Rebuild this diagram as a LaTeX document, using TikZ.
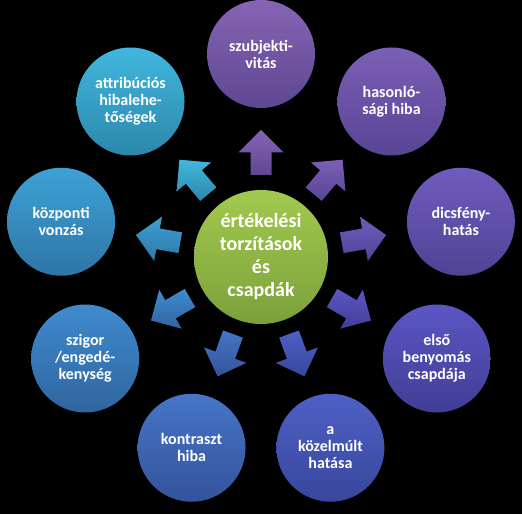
\documentclass[tikz,border=0pt]{standalone}
\usepackage{fontspec}
\setmainfont{Carlito}
\usetikzlibrary{calc}

\definecolor{greentop}{HTML}{A2C94F}
\definecolor{greenbot}{HTML}{7CA03A}
\definecolor{szubjtop}{HTML}{8664B4}
\definecolor{szubjbot}{HTML}{5E4791}
\definecolor{hasontop}{HTML}{7C5FB6}
\definecolor{hasonbot}{HTML}{584493}
\definecolor{dicstop}{HTML}{6F5CBE}
\definecolor{dicsbot}{HTML}{4F4393}
\definecolor{elsotop}{HTML}{5B56C4}
\definecolor{elsobot}{HTML}{403E95}
\definecolor{kozeltop}{HTML}{4E60C6}
\definecolor{kozelbot}{HTML}{38469A}
\definecolor{kontrtop}{HTML}{4675C8}
\definecolor{kontrbot}{HTML}{34539A}
\definecolor{szigtop}{HTML}{3F8BCF}
\definecolor{szigbot}{HTML}{2F659E}
\definecolor{kozptop}{HTML}{3EA1D6}
\definecolor{kozpbot}{HTML}{2D76A5}
\definecolor{attrtop}{HTML}{41B7DE}
\definecolor{attrbot}{HTML}{2C87AA}

% block arrow from the centre (c) towards node #1
\newcommand{\blockarr}[3]{%
  \shade[top color=#2, bottom color=#3]
    ($(c)!82pt!(#1)!10.5pt!90:(#1)$) -- ($(c)!104.5pt!(#1)!10.5pt!90:(#1)$)
    -- ($(c)!104.5pt!(#1)!22.5pt!90:(#1)$) -- ($(c)!127pt!(#1)$)
    -- ($(c)!104.5pt!(#1)!22.5pt!-90:(#1)$) -- ($(c)!104.5pt!(#1)!10.5pt!-90:(#1)$)
    -- ($(c)!82pt!(#1)!10.5pt!-90:(#1)$) -- cycle;}

\tikzset{
  bubble/.style n args={2}{circle, minimum size=108pt, inner sep=0pt,
    top color=#1, bottom color=#2, text=white, align=center,
    font=\bfseries\fontsize{16}{17}\selectfont}
}

\begin{document}
\begin{tikzpicture}[x=1pt, y=1pt]
  \fill[black] (0,0) rectangle (522,514);

  \node[bubble={greentop}{greenbot}, minimum size=134pt,
    font=\bfseries\fontsize{20}{23}\selectfont] (c) at (261,257)
    {értékelési\\torzítások\\és\\csapdák};

  % outer circles
  \node[bubble={szubjtop}{szubjbot}] (szubj) at ($(c)+(90:203)$) {szubjekti-\\vitás};
  \node[bubble={hasontop}{hasonbot}] (hason) at ($(c)+(50:203)$) {hasonló-\\sági hiba};
  \node[bubble={dicstop}{dicsbot}] (dics) at ($(c)+(10:203)$) {dicsfény-\\hatás};
  \node[bubble={elsotop}{elsobot}] (elso) at ($(c)+(-30:203)$) {első\\benyomás\\csapdája};
  \node[bubble={kozeltop}{kozelbot}] (kozel) at ($(c)+(-70:203)$) {a\\közelmúlt\\hatása};
  \node[bubble={kontrtop}{kontrbot}] (kontr) at ($(c)+(-110:203)$) {kontraszt\\hiba};
  \node[bubble={szigtop}{szigbot}] (szig) at ($(c)+(-150:203)$) {szigor\\/engedé-\\kenység};
  \node[bubble={kozptop}{kozpbot}] (kozp) at ($(c)+(170:203)$) {központi\\vonzás};
  \node[bubble={attrtop}{attrbot}] (attr) at ($(c)+(130:203)$) {attribúciós\\hibalehe-\\tőségek};

  % arrows
  \blockarr{szubj}{szubjtop}{szubjbot}
  \blockarr{hason}{hasontop}{hasonbot}
  \blockarr{dics}{dicstop}{dicsbot}
  \blockarr{elso}{elsotop}{elsobot}
  \blockarr{kozel}{kozeltop}{kozelbot}
  \blockarr{kontr}{kontrtop}{kontrbot}
  \blockarr{szig}{szigtop}{szigbot}
  \blockarr{kozp}{kozptop}{kozpbot}
  \blockarr{attr}{attrtop}{attrbot}
\end{tikzpicture}
\end{document}
